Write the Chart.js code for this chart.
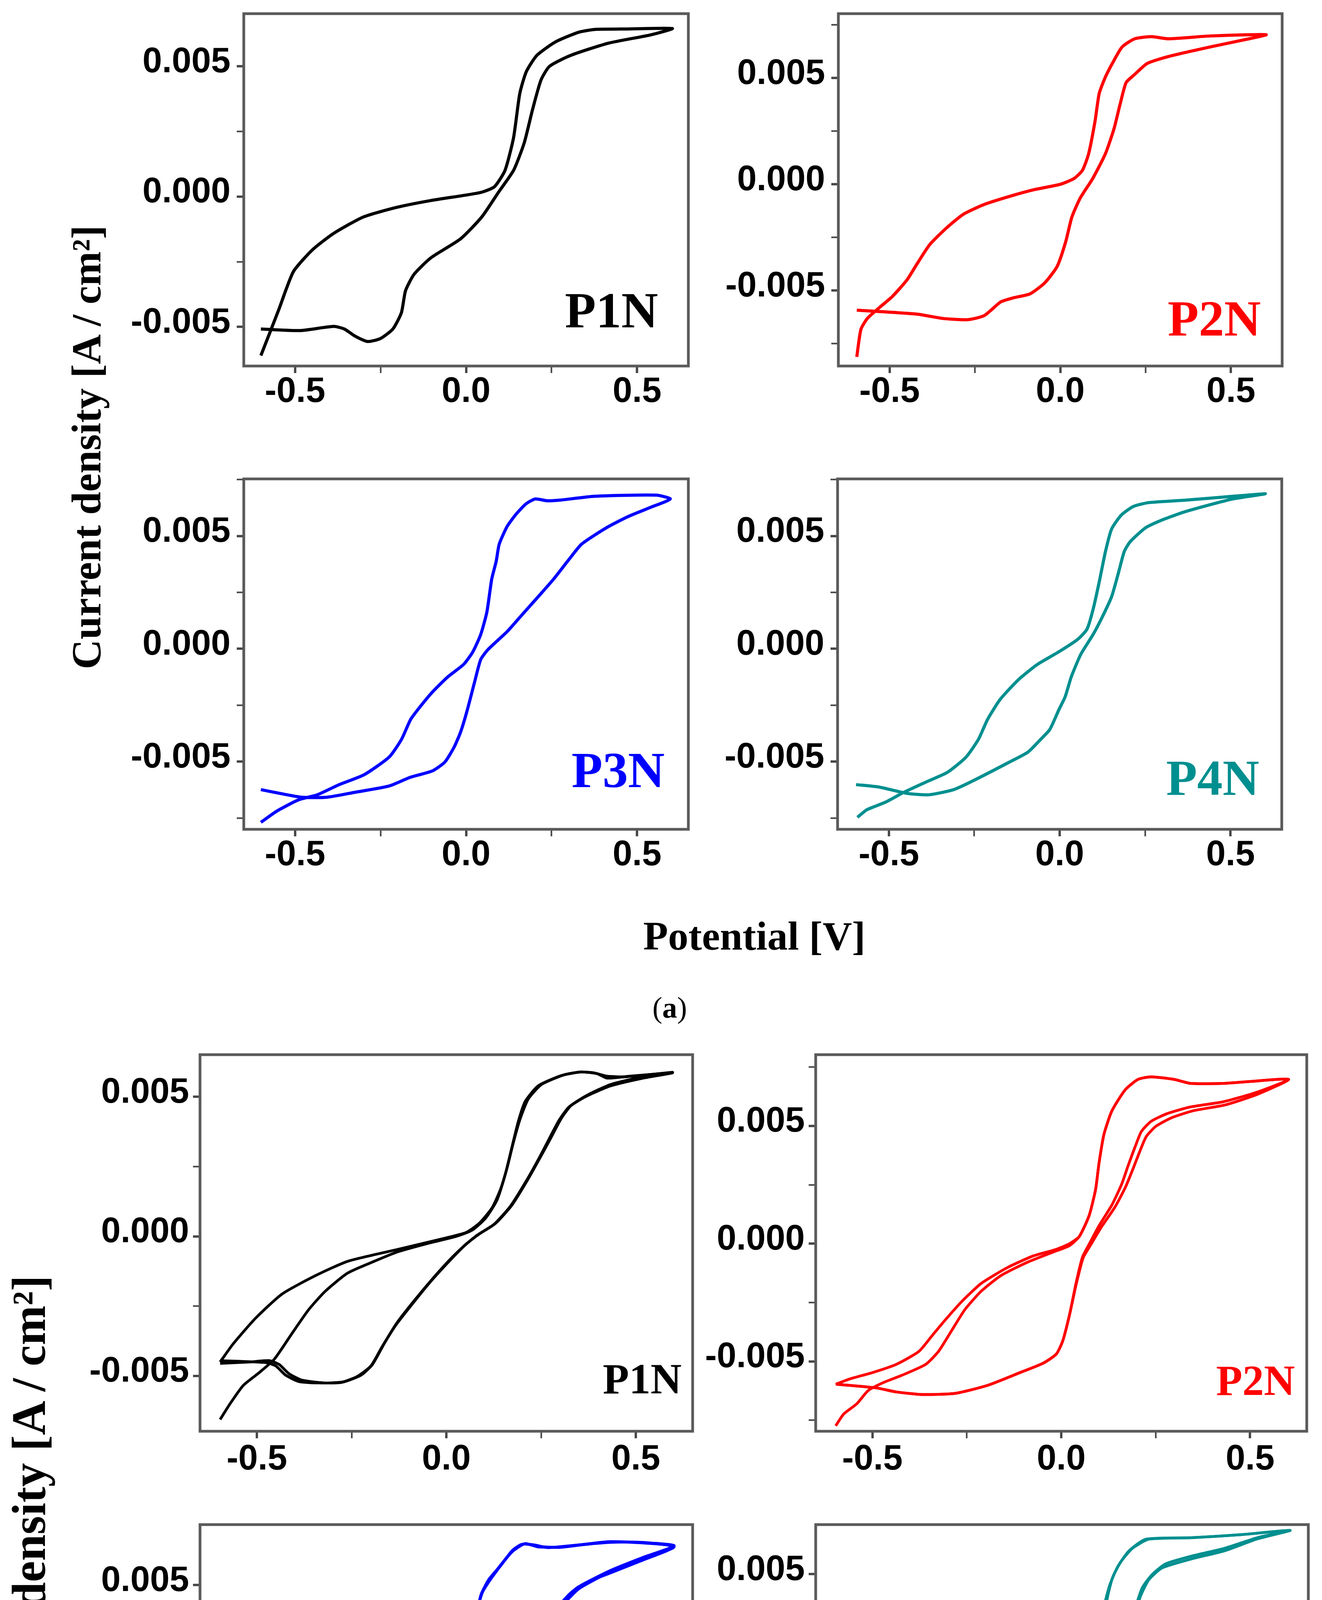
<!DOCTYPE html>
<html>
<head>
<meta charset="utf-8">
<script src="https://cdn.jsdelivr.net/npm/chart.js@4.4.0/dist/chart.umd.min.js"></script>
<style>
  body { margin: 0; background: #fff; width: 3384px; height: 5410px; position: relative; overflow: hidden; }
  canvas { position: absolute; }
  .txt { position: absolute; white-space: nowrap; line-height: 1; font-family: "Liberation Serif", "Times New Roman", serif; font-weight: bold; color: #000; }
</style>
</head>
<body>
<script>
// tick positions (labels only on the major ones)
const xMajor = [-0.5, 0.0, 0.5];
const xMinor = [-0.25, 0.25];
const yMajor = [-0.005, 0.000, 0.005];
const yMinor = [-0.0075, -0.0025, 0.0025, 0.0075];

// ---- (a) one cycle per sample: potential [V], current density [A/cm2] ----
const p1aV = [-0.60,-0.548,-0.505,-0.449,-0.387,-0.30,-0.202,-0.103,0.0,0.046,0.083,0.114,0.139,0.157,0.176,0.207,0.262,0.33,0.38,0.45,0.603,
  0.541,0.417,0.306,0.244,0.219,0.194,0.17,0.139,0.095,0.046,-0.016,-0.103,-0.152,-0.177,-0.189,-0.214,-0.251,-0.288,-0.325,-0.356,-0.387,-0.486,-0.60];
const p1aJ = [-0.0061,-0.00435,-0.00288,-0.00204,-0.00141,-0.00078,-0.00041,-0.00015,0.00006,0.00017,0.00038,0.00101,0.00227,0.00395,0.00479,0.00542,0.00594,0.00631,0.00642,0.00643,0.00645,
  0.00621,0.00589,0.00542,0.005,0.00447,0.00332,0.00206,0.00101,0.00017,-0.00078,-0.00162,-0.00235,-0.00298,-0.00361,-0.00445,-0.00508,-0.00545,-0.00556,-0.00535,-0.00508,-0.00498,-0.00514,-0.00508];

const p2aV = [-0.596,-0.584,-0.565,-0.529,-0.492,-0.449,-0.419,-0.382,-0.333,-0.284,-0.223,-0.149,-0.076,0.0,0.04,0.065,0.083,0.102,0.114,0.132,0.157,0.181,0.218,0.267,0.316,0.438,0.603,
  0.536,0.438,0.316,0.255,0.218,0.193,0.175,0.157,0.132,0.095,0.059,0.034,0.016,-0.009,-0.045,-0.088,-0.137,-0.174,-0.223,-0.272,-0.345,-0.419,-0.596];
const p2aJ = [-0.00812,-0.00683,-0.00631,-0.00579,-0.00528,-0.0045,-0.00373,-0.00283,-0.00205,-0.00141,-0.00095,-0.00057,-0.00025,0.0,0.00027,0.00066,0.00143,0.00298,0.00427,0.00504,0.00582,0.00646,0.00685,0.00695,0.00685,0.00698,0.00704,
  0.00679,0.00646,0.00601,0.00569,0.00517,0.00479,0.00375,0.00259,0.00143,0.00027,-0.00063,-0.00154,-0.0027,-0.00386,-0.00463,-0.00515,-0.00534,-0.00553,-0.00618,-0.00637,-0.00631,-0.00611,-0.00592];

const p3aV = [-0.6,-0.553,-0.489,-0.435,-0.371,-0.298,-0.225,-0.189,-0.162,-0.135,-0.098,-0.053,-0.007,0.02,0.043,0.061,0.075,0.088,0.097,0.12,0.147,0.175,0.202,0.238,0.275,0.375,0.556,0.597,
  0.538,0.475,0.411,0.338,0.302,0.256,0.211,0.165,0.12,0.065,0.043,0.025,0.002,-0.016,-0.035,-0.062,-0.098,-0.162,-0.225,-0.325,-0.407,-0.48,-0.544,-0.6];
const p3aJ = [-0.00769,-0.00719,-0.00669,-0.00647,-0.00602,-0.00558,-0.0048,-0.00402,-0.00313,-0.00258,-0.00191,-0.00124,-0.00069,-0.00013,0.00064,0.00164,0.00309,0.00387,0.00464,0.00542,0.00598,0.00642,0.00664,0.00656,0.00659,0.00676,0.00681,0.00664,
  0.00626,0.00587,0.00537,0.00464,0.00398,0.00309,0.00231,0.00153,0.00076,-0.00002,-0.00047,-0.00147,-0.0028,-0.00369,-0.00436,-0.00502,-0.00541,-0.00569,-0.00608,-0.00636,-0.00658,-0.00658,-0.00641,-0.00624];

const p4aV = [-0.592,-0.564,-0.51,-0.456,-0.392,-0.328,-0.274,-0.238,-0.211,-0.174,-0.12,-0.065,-0.002,0.053,0.08,0.098,0.116,0.134,0.152,0.18,0.216,0.261,0.37,0.506,0.602,
  0.506,0.37,0.298,0.252,0.207,0.189,0.171,0.152,0.125,0.098,0.062,0.034,0.016,-0.002,-0.029,-0.056,-0.093,-0.147,-0.247,-0.31,-0.383,-0.446,-0.528,-0.596];
const p4aJ = [-0.00747,-0.00713,-0.0068,-0.00636,-0.00591,-0.00547,-0.0048,-0.00402,-0.00313,-0.00224,-0.00136,-0.00069,-0.00013,0.00042,0.00087,0.00176,0.00298,0.00431,0.00531,0.00592,0.00631,0.00648,0.00659,0.00676,0.00687,
  0.00664,0.00609,0.0057,0.00537,0.00476,0.00431,0.00331,0.00231,0.00142,0.00064,-0.00024,-0.00124,-0.00213,-0.00269,-0.00358,-0.00402,-0.00458,-0.00502,-0.0058,-0.00624,-0.00647,-0.00641,-0.00613,-0.00602];

// ---- (b) repeated cycles ----
const p1bV1 = [-0.597,-0.571,-0.536,-0.493,-0.454,-0.407,-0.363,-0.32,-0.26,-0.19,-0.13,-0.043,0.026,0.069,0.104,0.134,0.156,0.173,0.19,0.208,0.242,0.303,0.355,0.389,0.424,0.476,0.597,
  0.519,0.433,0.372,0.329,0.303,0.277,0.251,0.216,0.173,0.13,0.087,0.052,0.009,-0.035,-0.087,-0.13,-0.164,-0.195,-0.225,-0.268,-0.32,-0.381,-0.415,-0.441,-0.467,-0.519,-0.597];
const p1bJ1 = [-0.00656,-0.006,-0.00534,-0.00487,-0.0044,-0.00347,-0.00262,-0.00197,-0.00131,-0.00089,-0.00056,-0.00023,0.0,0.00023,0.00066,0.00131,0.00225,0.00319,0.00412,0.00483,0.00539,0.00576,0.00589,0.00586,0.00574,0.00572,0.00588,
  0.00572,0.00544,0.00506,0.00469,0.00422,0.00356,0.00291,0.00206,0.00112,0.00047,0.00009,-0.00028,-0.00084,-0.0015,-0.00234,-0.00309,-0.00384,-0.00459,-0.00497,-0.0052,-0.00525,-0.00515,-0.00492,-0.00459,-0.00445,-0.0045,-0.00455];
const p1bV2 = [-0.597,-0.562,-0.502,-0.433,-0.346,-0.26,-0.13,0.0,0.052,0.087,0.121,0.143,0.16,0.177,0.195,0.216,0.251,0.311,0.355,0.398,0.424,0.484,0.597,
  0.519,0.433,0.368,0.324,0.298,0.272,0.247,0.212,0.169,0.125,0.082,0.048,0.004,-0.043,-0.091,-0.134,-0.169,-0.199,-0.234,-0.277,-0.337,-0.389,-0.424,-0.45,-0.476,-0.597];
const p1bJ2 = [-0.0045,-0.00384,-0.00291,-0.00206,-0.00141,-0.00089,-0.00047,-0.00005,0.00014,0.00047,0.00103,0.00169,0.00244,0.00337,0.00422,0.00492,0.00544,0.00579,0.00589,0.00583,0.00567,0.00574,0.00586,
  0.00567,0.00539,0.00501,0.00464,0.00417,0.00351,0.00286,0.00201,0.00108,0.00042,0.00005,-0.00033,-0.00094,-0.00164,-0.00244,-0.00319,-0.00394,-0.00464,-0.00501,-0.00523,-0.00525,-0.0052,-0.00497,-0.00464,-0.00452,-0.00445];

const p2bV1 = [-0.597,-0.576,-0.541,-0.511,-0.472,-0.42,-0.359,-0.325,-0.29,-0.255,-0.212,-0.16,-0.091,-0.022,0.022,0.048,0.074,0.091,0.1,0.113,0.134,0.169,0.203,0.238,0.299,0.342,0.429,0.498,0.602,
  0.515,0.429,0.342,0.281,0.238,0.212,0.195,0.177,0.16,0.134,0.1,0.074,0.056,0.039,0.022,0.004,-0.013,-0.048,-0.108,-0.195,-0.281,-0.368,-0.437,-0.489,-0.597];
const p2bJ1 = [-0.00774,-0.00724,-0.0068,-0.00624,-0.00591,-0.00558,-0.00513,-0.00458,-0.00369,-0.0028,-0.00202,-0.00136,-0.0008,-0.00036,-0.00008,0.00031,0.0012,0.00231,0.00342,0.00464,0.00564,0.00653,0.00698,0.00709,0.00698,0.00681,0.00681,0.00689,0.00698,
  0.00642,0.00603,0.00581,0.00553,0.0052,0.00476,0.00409,0.00331,0.00253,0.00164,0.00076,-0.00002,-0.00058,-0.00169,-0.00302,-0.00413,-0.00469,-0.00508,-0.00547,-0.00602,-0.00636,-0.00641,-0.0063,-0.00613,-0.00597];
const p2bV2 = [-0.597,-0.558,-0.498,-0.437,-0.377,-0.342,-0.307,-0.264,-0.212,-0.143,-0.074,-0.013,0.022,0.048,0.074,0.091,0.1,0.113,0.134,0.169,0.203,0.238,0.299,0.342,0.429,0.498,0.602,
  0.52,0.435,0.35,0.292,0.25,0.225,0.208,0.19,0.17,0.142,0.106,0.078,0.058,0.04,0.022,0.004,-0.013,-0.048,-0.108,-0.195,-0.281,-0.368,-0.437,-0.489,-0.597];
const p2bJ2 = [-0.00597,-0.00574,-0.00547,-0.00513,-0.00458,-0.00391,-0.00324,-0.00247,-0.00169,-0.00102,-0.00052,-0.00024,0.0,0.00031,0.0012,0.00231,0.00342,0.00464,0.00564,0.00653,0.00698,0.00709,0.00698,0.00681,0.00681,0.00689,0.00698,
  0.00635,0.0059,0.00565,0.00535,0.00498,0.00455,0.00392,0.00318,0.0024,0.00155,0.0007,-0.00005,-0.0006,-0.0017,-0.00302,-0.00413,-0.00469,-0.00508,-0.00547,-0.00602,-0.00636,-0.00641,-0.0063,-0.00613,-0.00597];

const p3bV1 = [-0.599,-0.545,-0.476,-0.407,-0.32,-0.251,-0.208,-0.173,-0.138,-0.095,-0.052,-0.009,0.017,0.035,0.052,0.065,0.078,0.091,0.112,0.147,0.173,0.199,0.234,0.268,0.346,0.433,0.519,0.601,
  0.519,0.433,0.372,0.329,0.285,0.242,0.199,0.147,0.087,0.052,0.039,0.026,0.009,-0.009,-0.026,-0.052,-0.104,-0.19,-0.303,-0.398,-0.493,-0.597];
const p3bJ1 = [-0.00749,-0.00717,-0.00652,-0.0062,-0.00566,-0.00501,-0.00436,-0.00361,-0.00286,-0.00199,-0.00124,-0.00059,-0.00016,0.00048,0.00135,0.00242,0.0035,0.00458,0.00523,0.00587,0.00641,0.00668,0.00665,0.00654,0.00665,0.00676,0.00676,0.00657,
  0.00603,0.0055,0.00512,0.00469,0.00393,0.00307,0.00221,0.00135,0.00048,-0.00016,-0.00059,-0.00145,-0.00275,-0.00383,-0.00447,-0.00501,-0.00544,-0.00593,-0.00625,-0.00641,-0.0063,-0.00603];
const p3bV2 = [-0.597,-0.554,-0.484,-0.407,-0.355,-0.311,-0.26,-0.199,-0.138,-0.069,-0.009,0.017,0.035,0.052,0.065,0.078,0.095,0.121,0.173,0.208,0.242,0.303,0.433,0.601,
  0.519,0.433,0.346,0.303,0.26,0.208,0.156,0.095,0.052,0.04,0.03,0.013,-0.009,-0.03,-0.069,-0.138,-0.242,-0.346,-0.45,-0.597];
const p3bJ2 = [-0.00603,-0.00566,-0.00533,-0.0049,-0.00436,-0.00361,-0.00264,-0.00178,-0.00124,-0.00081,-0.00038,0.0,0.00059,0.00145,0.00253,0.00372,0.00469,0.00533,0.00636,0.00671,0.00657,0.00657,0.00679,0.00663,
  0.00614,0.0056,0.0049,0.00426,0.0035,0.00253,0.00167,0.0007,0.0,-0.0006,-0.00167,-0.00286,-0.00404,-0.00469,-0.00517,-0.00555,-0.00598,-0.0063,-0.00636,-0.00598];
const p3bV3 = [-0.597,-0.519,-0.433,-0.346,-0.303,-0.26,-0.208,-0.156,-0.087,-0.017,0.013,0.035,0.052,0.065,0.078,0.093,0.118,0.17,0.205,0.24,0.3,0.433,0.601,
  0.519,0.433,0.35,0.308,0.265,0.214,0.161,0.1,0.055,0.042,0.032,0.015,-0.007,-0.028,-0.066,-0.135,-0.24,-0.345,-0.45,-0.597];
const p3bJ3 = [-0.00598,-0.00571,-0.00539,-0.0048,-0.00426,-0.0035,-0.00264,-0.00199,-0.00135,-0.0007,-0.00027,0.00045,0.0014,0.0025,0.0037,0.00466,0.0053,0.00633,0.00669,0.0066,0.00655,0.00678,0.0066,
  0.0061,0.00555,0.00485,0.0042,0.00345,0.00248,0.00162,0.00066,-0.00003,-0.00062,-0.0017,-0.0029,-0.00407,-0.00472,-0.0052,-0.00558,-0.00601,-0.00632,-0.00638,-0.00601];

const p4bV1 = [-0.597,-0.55,-0.498,-0.437,-0.368,-0.307,-0.273,-0.238,-0.203,-0.16,-0.108,-0.056,-0.004,0.039,0.065,0.082,0.095,0.108,0.121,0.134,0.156,0.186,0.229,0.342,0.472,0.602,
  0.515,0.429,0.342,0.273,0.238,0.212,0.195,0.177,0.16,0.134,0.1,0.065,0.048,0.03,0.013,-0.013,-0.039,-0.074,-0.126,-0.177,-0.212,-0.264,-0.351,-0.437,-0.506,-0.593];
const p4bJ1 = [-0.00717,-0.00665,-0.00629,-0.00603,-0.00561,-0.00515,-0.00457,-0.00374,-0.00291,-0.00208,-0.00125,-0.00052,0.0,0.00021,0.00042,0.00094,0.00177,0.00301,0.00416,0.00489,0.00551,0.00603,0.00639,0.00645,0.00657,0.00674,
  0.00645,0.00603,0.00572,0.00541,0.00499,0.00447,0.00374,0.00291,0.00208,0.00125,0.00042,-0.00021,-0.00083,-0.00187,-0.0027,-0.00353,-0.00416,-0.00457,-0.00489,-0.00499,-0.0053,-0.00582,-0.00608,-0.00624,-0.00624,-0.00603];
const p4bV2 = [-0.593,-0.541,-0.463,-0.411,-0.368,-0.325,-0.281,-0.238,-0.177,-0.108,-0.048,-0.013,0.022,0.056,0.074,0.087,0.1,0.113,0.126,0.147,0.177,0.221,0.342,0.472,0.602,
  0.515,0.429,0.342,0.264,0.229,0.208,0.19,0.169,0.143,0.108,0.074,0.052,0.033,0.015,-0.011,-0.037,-0.072,-0.124,-0.175,-0.21,-0.262,-0.349,-0.435,-0.504,-0.593];
const p4bJ2 = [-0.00603,-0.00561,-0.0051,-0.00447,-0.00374,-0.00291,-0.00218,-0.00166,-0.00114,-0.00062,-0.0001,0.00042,0.00062,0.00068,0.00083,0.00146,0.0026,0.00384,0.00457,0.0053,0.00593,0.00639,0.00645,0.00657,0.00674,
  0.0064,0.00593,0.00561,0.00525,0.00478,0.00416,0.00333,0.00239,0.00146,0.00062,-0.0001,-0.00073,-0.0018,-0.00265,-0.0035,-0.00412,-0.00455,-0.00487,-0.00497,-0.00527,-0.00578,-0.00605,-0.00621,-0.00622,-0.00603];

// layout of the 8 panels (plot box in page px, y range, colour, label)
const panels = [
  { box: [624, 34, 1762, 937],    y: [-0.0065, 0.00702], color: '#000000', name: 'P1N', cycles: [[p1aV, p1aJ]], lw: 8, yPad: 16, xPad: 4, lbl: [1446, 838, 130] },
  { box: [2146, 34, 3282, 937],   y: [-0.00855, 0.00803], color: '#ff0000', name: 'P2N', cycles: [[p2aV, p2aJ]], lw: 8, yPad: 16, xPad: 4, lbl: [2989, 859, 130] },
  { box: [624, 1225, 1762, 2123], y: [-0.008, 0.00753], color: '#0000ff', name: 'P3N', cycles: [[p3aV, p3aJ]], lw: 8, yPad: 16, xPad: 4, lbl: [1463, 2015, 130] },
  { box: [2144, 1225, 3281, 2123],y: [-0.008, 0.00753], color: '#008f8f', name: 'P4N', cycles: [[p4aV, p4aJ]], lw: 8, yPad: 16, xPad: 4, lbl: [2985, 2035, 130] },
  { box: [512, 2700, 1773, 3664], y: [-0.00698, 0.00651], color: '#000000', name: 'P1N', cycles: [[p1bV1, p1bJ1], [p1bV2, p1bJ2]], lw: 7, yPad: 10, xPad: 10, lbl: [1543, 3567, 110] },
  { box: [2088, 2700, 3345, 3664],y: [-0.00797, 0.00803], color: '#ff0000', name: 'P2N', cycles: [[p2bV1, p2bJ1], [p2bV2, p2bJ2]], lw: 7, yPad: 10, xPad: 10, lbl: [3113, 3571, 110] },
  { box: [512, 3903, 1773, 4866], y: [-0.008, 0.00749], color: '#0000ff', name: 'P3N', cycles: [[p3bV1, p3bJ1], [p3bV2, p3bJ2], [p3bV3, p3bJ3]], lw: 7, yPad: 10, xPad: 10, lbl: [1539, 4777, 110] },
  { box: [2088, 3903, 3349, 4866],y: [-0.00797, 0.00697], color: '#008f8f', name: 'P4N', cycles: [[p4bV1, p4bJ1], [p4bV2, p4bJ2]], lw: 7, yPad: 10, xPad: 10, lbl: [3109, 4791, 110] }
];

const Y_AXIS_W = 330, X_AXIS_H = 140, PAD_T = 60, PAD_R = 80;
const tickFont = { family: '"Liberation Sans", Arial, sans-serif', size: 90, weight: 'bold', lineHeight: 1 };
const isIn = (list, v) => list.some(m => Math.abs(m - v) < 1e-9);

// grey frame round the plot area (top and right sides have no axis)
const framePlugin = {
  id: 'frame',
  afterDatasetsDraw(chart) {
    const { ctx, chartArea: a } = chart;
    ctx.save();
    ctx.strokeStyle = '#5a5a5a';
    ctx.lineWidth = 7;
    ctx.strokeRect(a.left, a.top, a.right - a.left, a.bottom - a.top);
    ctx.restore();
  }
};

function addText(html, left, baseline, size, color) {
  const d = document.createElement('div');
  d.className = 'txt';
  d.style.left = left + 'px';
  d.style.top = (baseline - 0.8375 * size) + 'px';
  d.style.fontSize = size + 'px';
  d.style.color = color;
  d.innerHTML = html;
  document.body.appendChild(d);
  return d;
}

panels.forEach(p => {
  const [l, t, r, b] = p.box;
  const w = Y_AXIS_W + (r - l) + PAD_R;
  const h = PAD_T + (b - t) + X_AXIS_H;
  const cv = document.createElement('canvas');
  cv.width = w; cv.height = h;
  cv.style.left = (l - Y_AXIS_W) + 'px';
  cv.style.top = (t - PAD_T) + 'px';
  cv.style.width = w + 'px'; cv.style.height = h + 'px';
  document.body.appendChild(cv);

  const datasets = p.cycles.map(([V, J]) => ({
    data: V.map((v, i) => ({ x: v, y: J[i] })),
    showLine: true,
    borderColor: p.color,
    borderWidth: p.lw,
    pointRadius: 0,
    tension: 0.2,
    fill: false
  }));

  new Chart(cv, {
    type: 'scatter',
    data: { datasets },
    plugins: [framePlugin],
    options: {
      responsive: false,
      animation: false,
      devicePixelRatio: 1,
      layout: { padding: { top: PAD_T, right: PAD_R, left: 0, bottom: 0 } },
      plugins: { legend: { display: false }, tooltip: { enabled: false } },
      scales: {
        x: {
          type: 'linear', min: -0.65, max: 0.65,
          afterBuildTicks: s => { s.ticks = [...xMajor, ...xMinor].sort((a, c) => a - c).map(v => ({ value: v })); },
          afterFit: s => { s.height = X_AXIS_H; },
          ticks: {
            autoSkip: false, maxRotation: 0, padding: p.xPad, color: '#000', font: tickFont,
            callback: v => isIn(xMajor, v) ? v.toFixed(1) : ''
          },
          grid: {
            drawOnChartArea: false, drawTicks: true, tickLength: 18, tickColor: '#444',
            tickWidth: c => isIn(xMajor, c.tick.value) ? 6 : 4
          },
          border: { display: false }
        },
        y: {
          type: 'linear', min: p.y[0], max: p.y[1],
          afterBuildTicks: s => {
            s.ticks = [...yMajor, ...yMinor].filter(v => v >= s.min && v <= s.max)
              .sort((a, c) => a - c).map(v => ({ value: v }));
          },
          afterFit: s => { s.width = Y_AXIS_W; },
          ticks: {
            autoSkip: false, padding: p.yPad, labelOffset: -10, color: '#000', font: tickFont,
            callback: v => isIn(yMajor, v) ? v.toFixed(3) : ''
          },
          grid: {
            drawOnChartArea: false, drawTicks: true, tickLength: 18, tickColor: '#444',
            tickWidth: c => isIn(yMajor, c.tick.value) ? 6 : 4
          },
          border: { display: false }
        }
      }
    }
  });

  addText(p.name, p.lbl[0], p.lbl[1], p.lbl[2], p.color);
});

// axis titles and sub-figure captions
function addYTitle(cx, cy, size) {
  const d = document.createElement('div');
  d.className = 'txt';
  d.style.left = cx + 'px';
  d.style.top = cy + 'px';
  d.style.fontSize = size + 'px';
  d.style.transform = 'translate(-50%, -50%) rotate(-90deg)';
  d.textContent = 'Current density [A / cm²]';
  document.body.appendChild(d);
}
addYTitle(222, 1145, 106);
addYTitle(74, 3919, 122);

addText('Potential [V]', 1931, 2431, 104, '#000').style.transform = 'translateX(-50%)';
addText('Potential [V]', 1970, 5199, 120, '#000').style.transform = 'translateX(-50%)';
addText('<span style="font-weight:normal">(</span>a<span style="font-weight:normal">)</span>', 1670, 2605, 76, '#000');
addText('<span style="font-weight:normal">(</span>b<span style="font-weight:normal">)</span>', 1663, 5370, 76, '#000');
</script>
</body>
</html>
